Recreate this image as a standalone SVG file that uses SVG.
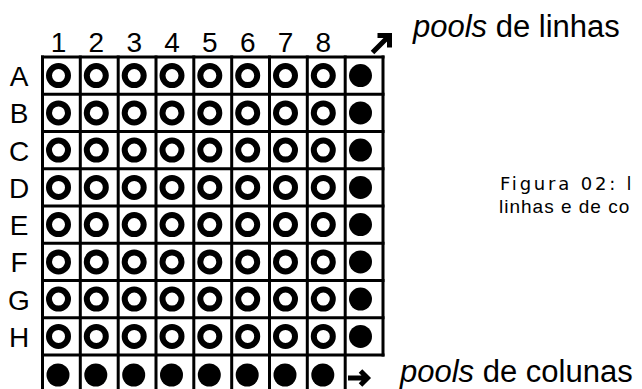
<svg xmlns="http://www.w3.org/2000/svg" xmlns:xlink="http://www.w3.org/1999/xlink" width="642" height="389" viewBox="0 0 642 389">
<style>
.lbl{font-family:"Liberation Sans",Arial,sans-serif;font-size:28px;fill:#000;text-anchor:middle}
.pool{font-family:"Liberation Sans",Arial,sans-serif;font-size:31px;fill:#000}
.cap{font-family:"DejaVu Sans",Verdana,sans-serif;font-size:18px;letter-spacing:2.8px;fill:#000}
.cap2{font-family:"Liberation Sans",Arial,sans-serif;font-size:19px;letter-spacing:1px;fill:#000}
.grid line{stroke:#000;stroke-width:3}
.arr{fill:none;stroke:#000;stroke-width:5}
</style>
<defs>
<circle id="ring" r="9.5" fill="none" stroke="#000" stroke-width="6"/>
<circle id="dot" r="11.5" fill="#000"/>
</defs>
<rect width="642" height="389" fill="#fff"/>
<g id="grid" class="grid">
<line x1="41" y1="57" x2="384.5" y2="57"/>
<line x1="41" y1="94.25" x2="384.5" y2="94.25"/>
<line x1="41" y1="131.5" x2="384.5" y2="131.5"/>
<line x1="41" y1="168.75" x2="384.5" y2="168.75"/>
<line x1="41" y1="206" x2="384.5" y2="206"/>
<line x1="41" y1="243.25" x2="384.5" y2="243.25"/>
<line x1="41" y1="280.5" x2="384.5" y2="280.5"/>
<line x1="41" y1="317.75" x2="384.5" y2="317.75"/>
<line x1="41" y1="355" x2="384.5" y2="355"/>
<line x1="42.5" y1="55.5" x2="42.5" y2="389"/>
<line x1="80.3" y1="55.5" x2="80.3" y2="389"/>
<line x1="118.2" y1="55.5" x2="118.2" y2="389"/>
<line x1="156" y1="55.5" x2="156" y2="389"/>
<line x1="193.8" y1="55.5" x2="193.8" y2="389"/>
<line x1="231.7" y1="55.5" x2="231.7" y2="389"/>
<line x1="269.5" y1="55.5" x2="269.5" y2="389"/>
<line x1="307.3" y1="55.5" x2="307.3" y2="389"/>
<line x1="345.2" y1="55.5" x2="345.2" y2="389"/>
<line x1="383" y1="55.5" x2="383" y2="356.5"/>
</g>
<g id="col-labels">
<text class="lbl" x="58.5" y="52">1</text>
<text class="lbl" x="96.3" y="52">2</text>
<text class="lbl" x="134.2" y="52">3</text>
<text class="lbl" x="172" y="52">4</text>
<text class="lbl" x="209.8" y="52">5</text>
<text class="lbl" x="247.7" y="52">6</text>
<text class="lbl" x="285.5" y="52">7</text>
<text class="lbl" x="323.3" y="52">8</text>
</g>
<g id="row-labels">
<text class="lbl" x="19" y="86">A</text>
<text class="lbl" x="19" y="123.3">B</text>
<text class="lbl" x="19" y="160.5">C</text>
<text class="lbl" x="19" y="197.8">D</text>
<text class="lbl" x="19" y="235">E</text>
<text class="lbl" x="19" y="272.3">F</text>
<text class="lbl" x="19" y="309.5">G</text>
<text class="lbl" x="19" y="346.8">H</text>
</g>
<g id="row-A"><use xlink:href="#ring" x="58.5" y="75.6"/><use xlink:href="#ring" x="96.3" y="75.6"/><use xlink:href="#ring" x="134.2" y="75.6"/><use xlink:href="#ring" x="172" y="75.6"/><use xlink:href="#ring" x="209.8" y="75.6"/><use xlink:href="#ring" x="247.7" y="75.6"/><use xlink:href="#ring" x="285.5" y="75.6"/><use xlink:href="#ring" x="323.3" y="75.6"/><use xlink:href="#dot" x="360.5" y="75.6"/></g>
<g id="row-B"><use xlink:href="#ring" x="58.5" y="112.9"/><use xlink:href="#ring" x="96.3" y="112.9"/><use xlink:href="#ring" x="134.2" y="112.9"/><use xlink:href="#ring" x="172" y="112.9"/><use xlink:href="#ring" x="209.8" y="112.9"/><use xlink:href="#ring" x="247.7" y="112.9"/><use xlink:href="#ring" x="285.5" y="112.9"/><use xlink:href="#ring" x="323.3" y="112.9"/><use xlink:href="#dot" x="360.5" y="112.9"/></g>
<g id="row-C"><use xlink:href="#ring" x="58.5" y="150.1"/><use xlink:href="#ring" x="96.3" y="150.1"/><use xlink:href="#ring" x="134.2" y="150.1"/><use xlink:href="#ring" x="172" y="150.1"/><use xlink:href="#ring" x="209.8" y="150.1"/><use xlink:href="#ring" x="247.7" y="150.1"/><use xlink:href="#ring" x="285.5" y="150.1"/><use xlink:href="#ring" x="323.3" y="150.1"/><use xlink:href="#dot" x="360.5" y="150.1"/></g>
<g id="row-D"><use xlink:href="#ring" x="58.5" y="187.4"/><use xlink:href="#ring" x="96.3" y="187.4"/><use xlink:href="#ring" x="134.2" y="187.4"/><use xlink:href="#ring" x="172" y="187.4"/><use xlink:href="#ring" x="209.8" y="187.4"/><use xlink:href="#ring" x="247.7" y="187.4"/><use xlink:href="#ring" x="285.5" y="187.4"/><use xlink:href="#ring" x="323.3" y="187.4"/><use xlink:href="#dot" x="360.5" y="187.4"/></g>
<g id="row-E"><use xlink:href="#ring" x="58.5" y="224.6"/><use xlink:href="#ring" x="96.3" y="224.6"/><use xlink:href="#ring" x="134.2" y="224.6"/><use xlink:href="#ring" x="172" y="224.6"/><use xlink:href="#ring" x="209.8" y="224.6"/><use xlink:href="#ring" x="247.7" y="224.6"/><use xlink:href="#ring" x="285.5" y="224.6"/><use xlink:href="#ring" x="323.3" y="224.6"/><use xlink:href="#dot" x="360.5" y="224.6"/></g>
<g id="row-F"><use xlink:href="#ring" x="58.5" y="261.9"/><use xlink:href="#ring" x="96.3" y="261.9"/><use xlink:href="#ring" x="134.2" y="261.9"/><use xlink:href="#ring" x="172" y="261.9"/><use xlink:href="#ring" x="209.8" y="261.9"/><use xlink:href="#ring" x="247.7" y="261.9"/><use xlink:href="#ring" x="285.5" y="261.9"/><use xlink:href="#ring" x="323.3" y="261.9"/><use xlink:href="#dot" x="360.5" y="261.9"/></g>
<g id="row-G"><use xlink:href="#ring" x="58.5" y="299.1"/><use xlink:href="#ring" x="96.3" y="299.1"/><use xlink:href="#ring" x="134.2" y="299.1"/><use xlink:href="#ring" x="172" y="299.1"/><use xlink:href="#ring" x="209.8" y="299.1"/><use xlink:href="#ring" x="247.7" y="299.1"/><use xlink:href="#ring" x="285.5" y="299.1"/><use xlink:href="#ring" x="323.3" y="299.1"/><use xlink:href="#dot" x="360.5" y="299.1"/></g>
<g id="row-H"><use xlink:href="#ring" x="58.5" y="336.4"/><use xlink:href="#ring" x="96.3" y="336.4"/><use xlink:href="#ring" x="134.2" y="336.4"/><use xlink:href="#ring" x="172" y="336.4"/><use xlink:href="#ring" x="209.8" y="336.4"/><use xlink:href="#ring" x="247.7" y="336.4"/><use xlink:href="#ring" x="285.5" y="336.4"/><use xlink:href="#ring" x="323.3" y="336.4"/><use xlink:href="#dot" x="360.5" y="336.4"/></g>
<g id="col-pools"><use xlink:href="#dot" x="58" y="375"/><use xlink:href="#dot" x="95.8" y="375"/><use xlink:href="#dot" x="133.7" y="375"/><use xlink:href="#dot" x="171.5" y="375"/><use xlink:href="#dot" x="209.3" y="375"/><use xlink:href="#dot" x="247.2" y="375"/><use xlink:href="#dot" x="285" y="375"/><use xlink:href="#dot" x="322.8" y="375"/></g>
<g id="connectors">
<path class="arr" d="M372.5,52.5 L388,37 M377.5,35.5 L389.5,35.5 L389.5,47.5"/>
<path class="arr" d="M348,378 L367,378 M360.5,371 L367.5,378 L360.5,385"/>
</g>
<g id="label-rows"><text class="pool" x="413" y="37"><tspan font-style="italic">pools</tspan> de linhas</text></g>
<g id="label-cols"><text class="pool" x="400" y="382"><tspan font-style="italic">pools</tspan> de colunas</text></g>
<g id="caption">
<text class="cap" x="500" y="190">Figura 02: l</text>
<text class="cap2" x="499" y="213">linhas e de co</text>
</g>
</svg>
